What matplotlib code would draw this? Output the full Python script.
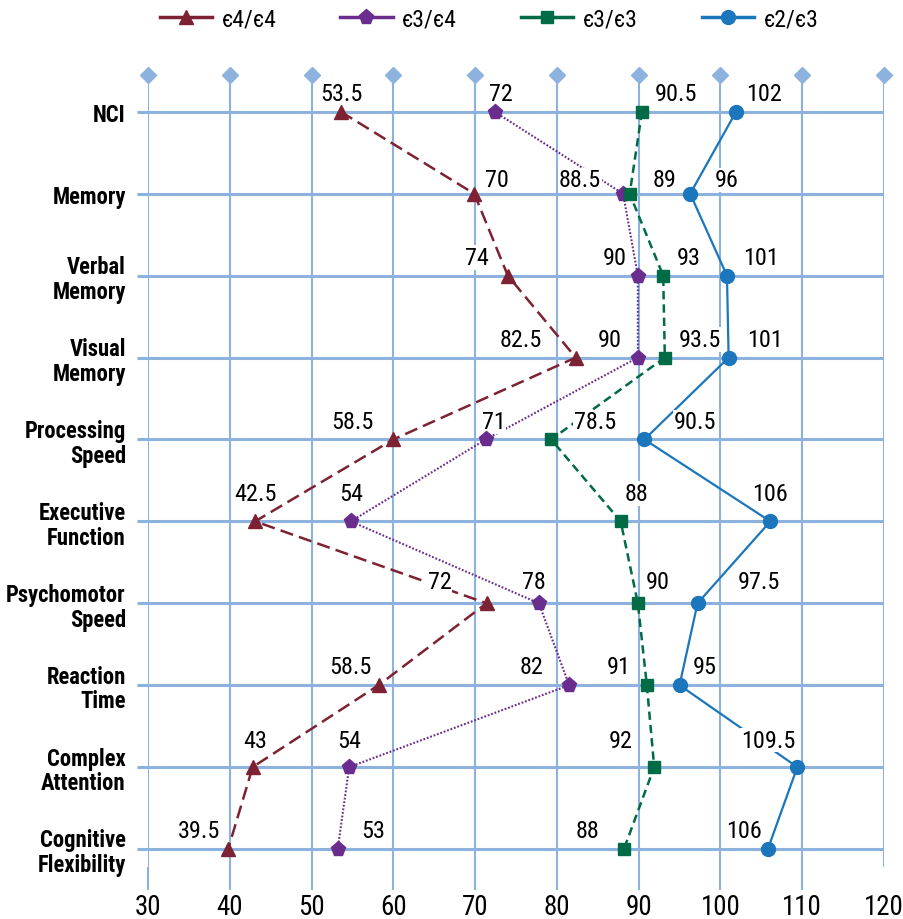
import numpy as np
import matplotlib
matplotlib.use("Agg")
import matplotlib.pyplot as plt
from matplotlib import font_manager

# categories (top to bottom)
domains = ["NCI", "Memory", "Verbal\nMemory", "Visual\nMemory", "Processing\nSpeed",
           "Executive\nFunction", "Psychomotor\nSpeed", "Reaction\nTime",
           "Complex\nAttention", "Cognitive\nFlexibility"]
xticks = [30, 40, 50, 60, 70, 80, 90, 100, 110, 120]

# marker positions
e44 = [53.6, 69.9, 74.0, 82.3, 60.0, 43.1, 71.4, 58.2, 42.8, 39.8]
e34 = [72.4, 88.1, 89.9, 89.9, 71.3, 54.8, 77.8, 81.5, 54.6, 53.2]
e33 = [90.4, 88.9, 93.0, 93.2, 79.3, 87.8, 89.9, 91.0, 91.9, 88.2]
e23 = [101.9, 96.3, 100.8, 101.0, 90.7, 106.1, 97.2, 95.0, 109.4, 105.8]

# data labels as printed
e44_lab = ["53.5", "70", "74", "82.5", "58.5", "42.5", "72", "58.5", "43", "39.5"]
e34_lab = ["72", "88.5", "90", "90", "71", "54", "78", "82", "54", "53"]
e33_lab = ["90.5", "89", "93", "93.5", "78.5", "88", "90", "91", "92", "88"]
e23_lab = ["102", "96", "101", "101", "90.5", "106", "97.5", "95", "109.5", "106"]

# label placement (pixels)
e44_dx = [0, 23, -31, -55, -41, 0, -47, -28, 3, -29]
e34_dx = [6, -43, -23, -28, 8, 0, -5, -38, 0, 35]
e33_dx = [34, 35, 25, 35, 44, 16, 20, -28, -33, -36]
e23_dx = [28, 37, 34, 36, 51, 0, 61, 25, -29, -24]
row_dy = [18, 14, 18, 18, 17.5, 28, 22, 18.5, 27, 18]

names = {f.name for f in font_manager.fontManager.ttflist}
if "Liberation Sans Narrow" in names:
    FAM, scale = "Liberation Sans Narrow", 1.0
elif "Roboto Condensed" in names:
    FAM, scale = "Roboto Condensed", 0.95
else:
    FAM, scale = "Liberation Sans", 0.9
plt.rcParams["font.family"] = [FAM, "DejaVu Sans"]
plt.rcParams["lines.scale_dashes"] = False

GRID = "#8EB2DE"
series = [
    ("\u0454" + "4/" + "\u0454" + "4", e44, e44_lab, e44_dx, "#7D2232", "^", 10, (0, (9.5, 4.5)), 1.8),
    ("\u0454" + "3/" + "\u0454" + "4", e34, e34_lab, e34_dx, "#6A2D8E", "p", 11, (0, (1.3, 1.3)), 1.5),
    ("\u0454" + "3/" + "\u0454" + "3", e33, e33_lab, e33_dx, "#006B45", "s", 9, (0, (6, 3.6)), 1.8),
    ("\u0454" + "2/" + "\u0454" + "3", e23, e23_lab, e23_dx, "#1B76BC", "o", 10, "-", 1.6),
]

fig = plt.figure(figsize=(9.04, 9.2), dpi=100)
ax = fig.add_axes([148/904, 1-868/920, 736/904, 792/920])
y = np.arange(len(domains))

ax.set_xlim(30, 120)
ax.set_ylim(9.22, -0.45)
ax.set_xticks(xticks)
ax.set_yticks(y)
ax.set_yticklabels(domains, fontsize=17.2*scale, fontweight="bold", linespacing=1.1)
for t in ax.get_xticklabels():
    t.set_fontsize(20.5*scale)
for s in ax.spines.values():
    s.set_visible(False)
ax.grid(axis="x", color=GRID, lw=1.5)
ax.grid(axis="y", color=GRID, lw=2.2)
ax.set_axisbelow(True)
ax.tick_params(axis="x", length=16.5, width=1.5, color=GRID, pad=2)
ax.tick_params(axis="y", length=8, width=2.2, color=GRID, pad=8)
ax.xaxis.get_major_ticks()[-1].tick1line.set_visible(False)

# diamonds on top of each vertical gridline
ax.plot(xticks, [-0.45]*len(xticks), "D", color=GRID, ms=8, clip_on=False, zorder=2)

handles = []
for name, vals, labs, dxs, col, mk, ms, ls, lw in series:
    ax.plot(vals, y, color=col, ls=ls, lw=lw, zorder=3)
    ax.plot(vals, y, ls="none", marker=mk, ms=ms, color=col, zorder=6, clip_on=False)
    h, = ax.plot([], [], color=col, lw=2.5, marker=mk, ms=ms)
    handles.append(h)
    for i in range(len(vals)):
        ax.annotate(labs[i], (vals[i], y[i]), xytext=(dxs[i], row_dy[i]),
                    textcoords="offset pixels", ha="center", va="center",
                    fontsize=18.3*scale, zorder=5,
                    bbox=dict(fc="white", ec="none", pad=0.5))

fig.legend(handles, [s[0] for s in series], loc="center", ncol=4,
           bbox_to_anchor=(489/904, 1-20/920), frameon=False,
           fontsize=18*scale, handlelength=2.2, handletextpad=0.4,
           columnspacing=2.7)

fig.savefig("out.png", dpi=100)
